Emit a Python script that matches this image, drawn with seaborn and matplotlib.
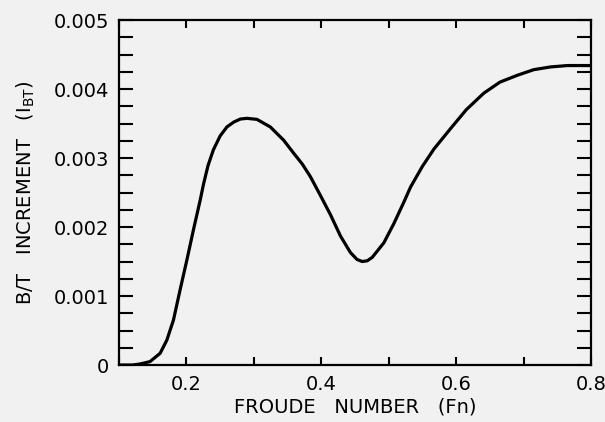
import numpy as np
import pandas as pd
import matplotlib
matplotlib.use("Agg")
import matplotlib.pyplot as plt
from matplotlib.ticker import MultipleLocator, FixedLocator
import seaborn as sns

# values
froude = [0.100, 0.120, 0.1312, 0.146, 0.161, 0.1709, 0.1807, 0.1906, 0.2006, 0.2104,
          0.2204, 0.2253, 0.232, 0.240, 0.250, 0.260, 0.270, 0.280, 0.2897, 0.3046,
          0.3244, 0.344, 0.359, 0.372, 0.3838, 0.398, 0.4135, 0.4284, 0.4432, 0.4530,
          0.4606, 0.4680, 0.4755, 0.4927, 0.5076, 0.5224, 0.5324, 0.550, 0.567, 0.592,
          0.615, 0.641, 0.665, 0.691, 0.715, 0.740, 0.765, 0.800]
increment = [0.0, 0.0, 0.000015, 0.00005, 0.00017, 0.00036, 0.00065, 0.00109, 0.00152, 0.00196,
             0.00239, 0.00262, 0.00289, 0.00312, 0.00332, 0.00345, 0.00352, 0.003565, 0.003575, 0.00356,
             0.00345, 0.00326, 0.00307, 0.00291, 0.00273, 0.00247, 0.00218, 0.00187, 0.00163, 0.00153,
             0.00150, 0.00151, 0.00156, 0.00177, 0.00205, 0.00236, 0.00258, 0.00288, 0.00313, 0.00343,
             0.00370, 0.00394, 0.00410, 0.00420, 0.00428, 0.00432, 0.00434, 0.00434]

x_ticks = [0.2, 0.4, 0.6, 0.8]
x_ticklabels = ["0.2", "0.4", "0.6", "0.8"]
y_ticks = [0, 0.001, 0.002, 0.003, 0.004, 0.005]
y_ticklabels = ["0", "0.001", "0.002", "0.003", "0.004", "0.005"]

df = pd.DataFrame({"Fn": froude, "IBT": increment})

sns.set_style("ticks")
plt.rcParams['font.family'] = ['DejaVu Sans']

fig = plt.figure(figsize=(6.05, 4.22), dpi=100, facecolor="#f1f1f1")
ax = fig.add_axes([0.1967, 0.135, 0.7802, 0.8176])
ax.set_facecolor("#f1f1f1")

sns.lineplot(data=df, x="Fn", y="IBT", ax=ax, color="black", linewidth=2.3, sort=False)

ax.set_xlim(0.1, 0.8)
ax.set_ylim(0, 0.005)

ax.xaxis.set_major_locator(FixedLocator(x_ticks))
ax.xaxis.set_minor_locator(MultipleLocator(0.1))
ax.set_xticklabels(x_ticklabels)
ax.yaxis.set_major_locator(FixedLocator(y_ticks))
ax.yaxis.set_minor_locator(MultipleLocator(0.00025))
ax.set_yticklabels(y_ticklabels)

ax.tick_params(which="both", direction="in", top=True, right=True, width=1.5,
               colors="black", labelcolor="black", labelsize=14, pad=7)
ax.tick_params(axis="y", which="both", length=10)
ax.tick_params(axis="x", which="both", length=6)

for s in ax.spines.values():
    s.set_linewidth(1.6)
    s.set_color("black")

ax.set_xlabel("FROUDE   NUMBER   (Fn)", fontsize=14, color="black", labelpad=3)
ax.set_ylabel(r"B/T   INCREMENT   (I$_{\mathrm{BT}}$)", fontsize=14, color="black", labelpad=12)

fig.savefig("out.png", dpi=100, facecolor=fig.get_facecolor())
